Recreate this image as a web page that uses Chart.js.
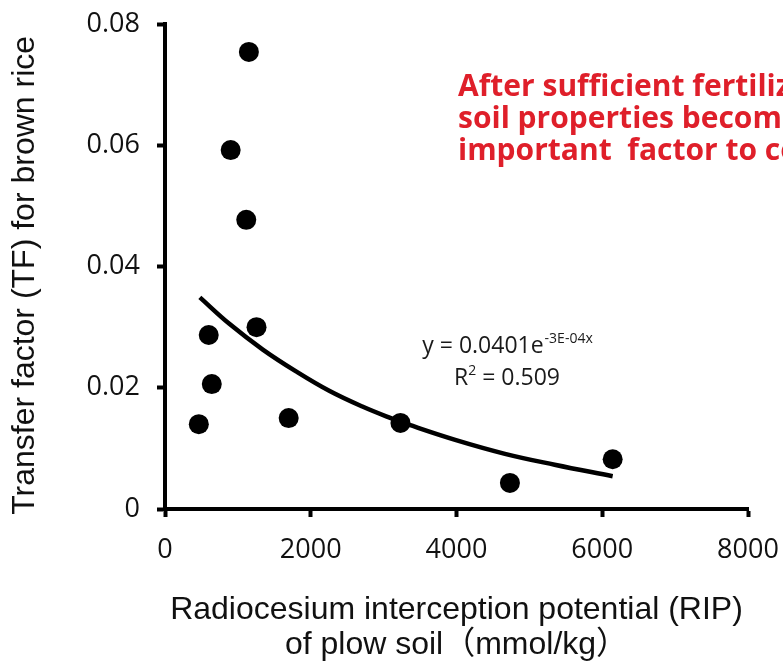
<!DOCTYPE html>
<html>
<head>
<meta charset="utf-8">
<script src="https://cdn.jsdelivr.net/npm/chart.js@4.4.1/dist/chart.umd.min.js"></script>
<style>
html,body{margin:0;padding:0;background:#fff;}
#wrap{width:783px;height:668px;position:relative;}
</style>
</head>
<body>
<div id="wrap"><canvas id="c" width="783" height="668"></canvas></div>
<script>
// Observed data points (RIP of plow soil, TF for brown rice)
const ripValues = [1151, 901, 1115, 1256, 600, 642, 464, 1697, 3231, 4733, 6143];
const tfValues  = [0.0754, 0.0592, 0.0477, 0.0300, 0.0287, 0.0206, 0.0140, 0.0150, 0.0142, 0.0043, 0.0082];

// Trend curve
const trendRip = [478, 887, 1342, 1798, 2253, 2708, 3117, 3345, 3982, 4665, 5347, 6143];
const trendTf  = [0.0349, 0.0305, 0.0263, 0.0227, 0.0195, 0.0169, 0.0149, 0.0139, 0.0114, 0.0091, 0.0073, 0.0054];

// Axis ticks
const xTicks = [0, 2000, 4000, 6000, 8000];
const yTicks = [0, 0.02, 0.04, 0.06, 0.08];

// Texts
const xTitle = ['Radiocesium interception potential (RIP)', 'of plow soil（mmol/kg）'];
const yTitle = 'Transfer factor (TF) for brown rice  ';
const noteLines = ['After sufficient fertilization,', 'soil properties become', 'important  factor to control'];
const eqMain = 'y = 0.0401e';
const eqSup = '-3E-04x';
const r2Main = 'R';
const r2Sup = '2';
const r2Rest = ' = 0.509';

const annotationPlugin = {
  id: 'annotations',
  afterDraw(chart) {
    const ctx = chart.ctx;
    ctx.save();
    // red note
    ctx.fillStyle = '#df1f2a';
    ctx.font = 'bold 30px "Open Sans"';
    ctx.textAlign = 'left';
    ctx.textBaseline = 'alphabetic';
    const nx = 458, ny = [96, 128, 160];
    noteLines.forEach((t, i) => ctx.fillText(t, nx, ny[i]));

    // equation
    ctx.fillStyle = '#1a1a1a';
    const cx = 507;
    const mainFont = '23px "Open Sans"';
    const supFont = '14px "Open Sans"';
    ctx.font = mainFont;
    const w1 = ctx.measureText(eqMain).width;
    ctx.font = supFont;
    const w2 = ctx.measureText(eqSup).width;
    let x0 = cx - (w1 + w2) / 2;
    ctx.font = mainFont;
    ctx.fillText(eqMain, x0, 353);
    ctx.font = supFont;
    ctx.fillText(eqSup, x0 + w1 + 1, 343);

    ctx.font = mainFont;
    const r1 = ctx.measureText(r2Main).width;
    const r3 = ctx.measureText(r2Rest).width;
    ctx.font = supFont;
    const r2 = ctx.measureText(r2Sup).width;
    x0 = cx - (r1 + r2 + r3) / 2;
    ctx.font = mainFont;
    ctx.fillText(r2Main, x0, 385);
    ctx.font = supFont;
    ctx.fillText(r2Sup, x0 + r1, 375);
    ctx.font = mainFont;
    ctx.fillText(r2Rest, x0 + r1 + r2, 385);
    ctx.restore();
  }
};

const points = ripValues.map((x, i) => ({ x: x, y: tfValues[i] }));
const trend = trendRip.map((x, i) => ({ x: x, y: trendTf[i] }));

const tickFont = { family: '"Open Sans"', size: 27 };
const titleFont = { family: '"Liberation Sans", Arial, "Noto Sans CJK JP", sans-serif', size: 32, lineHeight: 1.1 };

new Chart(document.getElementById('c'), {
  type: 'scatter',
  data: {
    datasets: [
      {
        label: 'Trend',
        data: trend,
        showLine: true,
        borderColor: '#000',
        borderWidth: 4.5,
        pointRadius: 0,
        fill: false,
        tension: 0.4,
        order: 2
      },
      {
        label: 'TF',
        data: points,
        backgroundColor: '#000',
        borderColor: '#000',
        borderWidth: 0,
        pointRadius: 10,
        pointHoverRadius: 10,
        order: 1
      }
    ]
  },
  options: {
    responsive: false,
    animation: false,
    events: [],
    layout: { padding: { left: 0, right: 35, top: 24, bottom: 0 } },
    plugins: { legend: { display: false }, tooltip: { enabled: false } },
    scales: {
      x: {
        type: 'linear',
        min: 0,
        max: 8000,
        afterBuildTicks: s => { s.ticks = xTicks.map(v => ({ value: v })); },
        afterFit: s => { s.height = 159; s.paddingLeft = 0; s.paddingRight = 0; },
        ticks: { font: tickFont, color: '#111', padding: 17, maxRotation: 0, autoSkip: false, callback: v => String(v) },
        grid: { drawOnChartArea: false, drawTicks: true, tickLength: 8, tickWidth: 4, color: '#000' },
        border: { display: true, color: '#000', width: 4 },
        title: { display: true, text: xTitle, font: titleFont, color: '#111', padding: { top: 0, bottom: 5 } }
      },
      y: {
        type: 'linear',
        min: 0,
        max: 0.08,
        afterBuildTicks: s => { s.ticks = yTicks.map(v => ({ value: v })); },
        afterFit: s => { s.width = 165; s.paddingTop = 0; s.paddingBottom = 0; },
        ticks: { font: tickFont, color: '#111', padding: 17, autoSkip: false, callback: v => String(v) },
        grid: { drawOnChartArea: false, drawTicks: true, tickLength: 8, tickWidth: 4, color: '#000' },
        border: { display: true, color: '#000', width: 4 },
        title: { display: true, text: yTitle, font: titleFont, color: '#111', padding: { top: 8, bottom: 0 } }
      }
    }
  },
  plugins: [annotationPlugin]
});
</script>
</body>
</html>
